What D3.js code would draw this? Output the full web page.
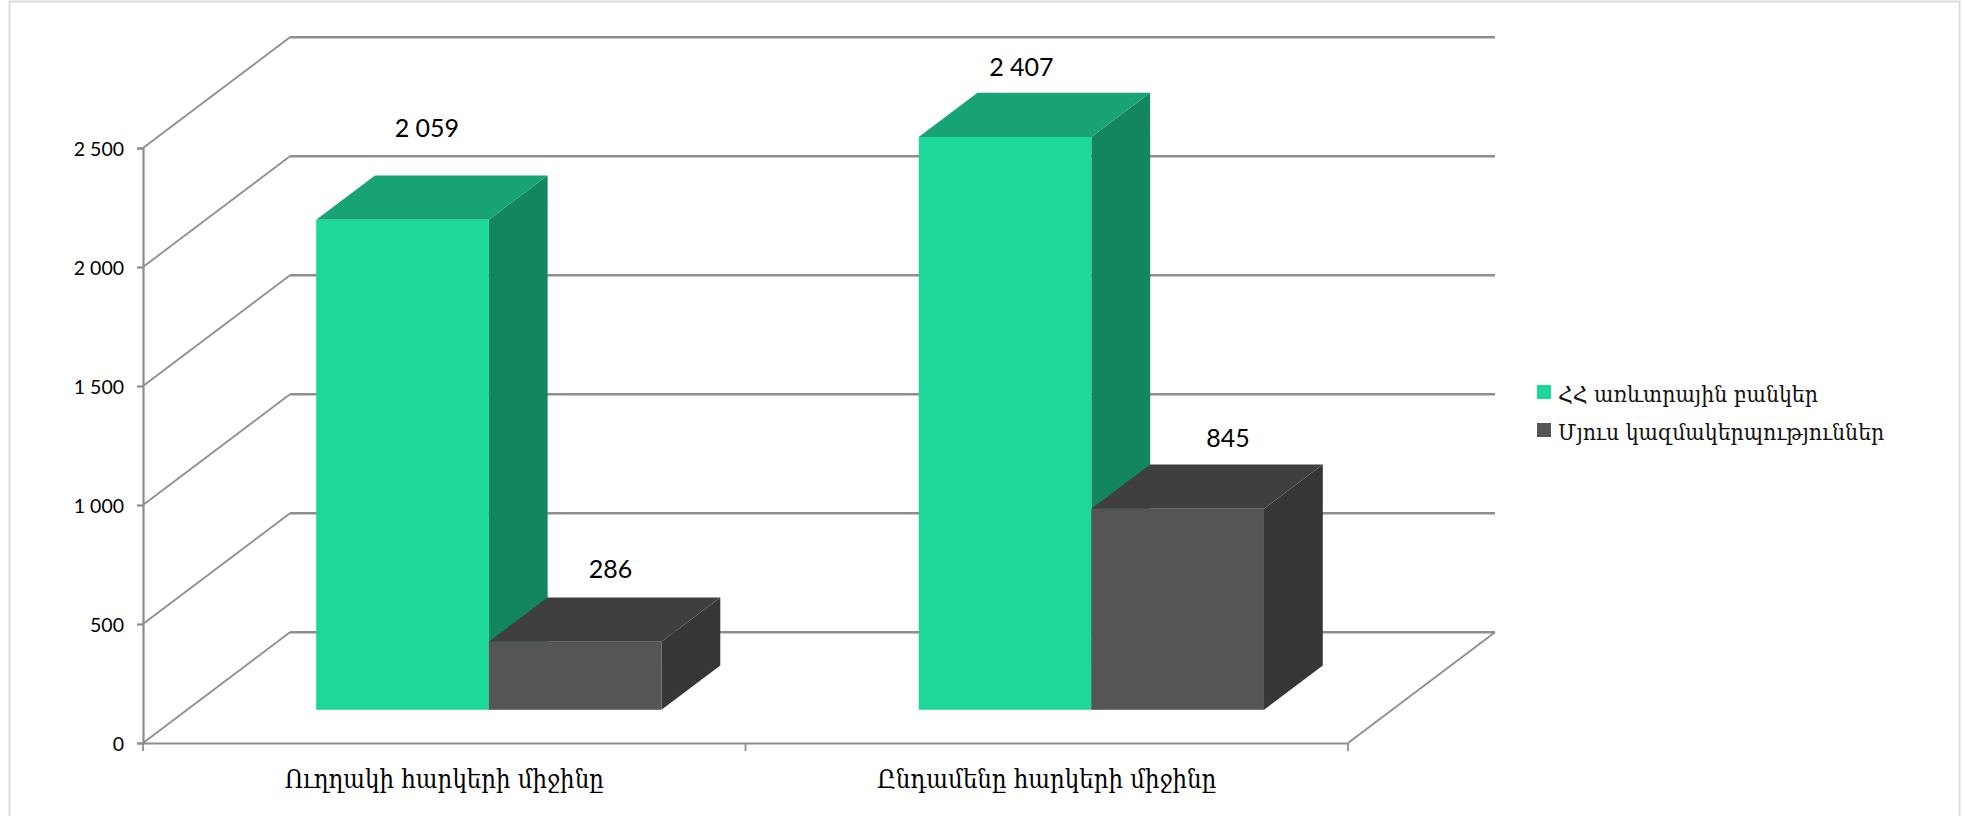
<!DOCTYPE html>
<html><head><meta charset="utf-8">
<script src="https://cdn.jsdelivr.net/npm/d3@7"></script>
<style>html,body{margin:0;padding:0;background:#fff}svg{display:block}</style>
</head><body><svg id="c" width="1962" height="816"></svg>
<script>
const categories = ["Ուղղակի հարկերի միջինը", "Ընդամենը հարկերի միջինը"];
const seriesNames = ["ՀՀ առևտրային բանկեր", "Մյուս կազմակերպություններ"];
const banks = [2059, 2407];
const others = [286, 845];
const yTicks = [0, 500, 1000, 1500, 2000, 2500];

const frontColors = ["#1ed79a", "#555555"];
const topColors = ["#17a376", "#3f3f3f"];
const sideColors = ["#138560", "#363636"];
const gridColor = "#8e8e8e";
const numFont = "Lato, sans-serif";
const armFont = "'DejaVu Serif Condensed', 'DejaVu Serif', serif";

const svg = d3.select("#c");
svg.append("rect").attr("x", 9.5).attr("y", 1.5).attr("width", 1950).attr("height", 830)
  .attr("fill", "#fff").attr("stroke", "#dcdcdc").attr("stroke-width", 2);

const y = d3.scaleLinear().domain([0, 2500]).range([743, 148]);
const x = d3.scaleBand().domain(categories).range([143, 1348]);
const inner = d3.scaleBand().domain([0, 1]).range([0, x.bandwidth()]).paddingInner(0).paddingOuter(0.745);
const depthX = d3.scaleLinear().domain([0, 1]).range([0, 147]);
const depthY = d3.scaleLinear().domain([0, 1]).range([0, -110.7]);
const zFront = 0.3, zBack = 0.7;
const barShift = 0.5;

// walls
const g = svg.append("g").attr("fill", "none").attr("stroke", gridColor);
yTicks.forEach(t => {
  g.append("path").attr("stroke-width", 1.8)
    .attr("d", d3.line()([[143, y(t)], [143 + depthX(1), y(t) + depthY(1)]]));
  g.append("line").attr("stroke-width", 2.4)
    .attr("x1", 143 + depthX(1)).attr("x2", 1348 + depthX(1))
    .attr("y1", y(t) + depthY(1)).attr("y2", y(t) + depthY(1));
});
g.append("path").attr("stroke-width", 1.8)
  .attr("d", d3.line()([[1348, y(0)], [1348 + depthX(1), y(0) + depthY(1)]]));

// axes
const yAxis = svg.append("g").attr("transform", "translate(143,0)")
  .call(d3.axisLeft(y).tickValues(yTicks).tickSize(6).tickPadding(13)
    .tickFormat(d => d3.format(",")(d).replace(",", " ")));
const edges = d3.scaleOrdinal().domain([0, 1, 2]).range([143, 143 + x.step(), 1348]);
const xAxis = svg.append("g").attr("transform", `translate(0,${y(0)})`)
  .call(d3.axisBottom(x).tickSize(0).tickPadding(0));
xAxis.selectAll(".tick text").remove();
xAxis.selectAll(".edge").data([0, 1, 2]).join("line").attr("class", "edge")
  .attr("x1", d => edges(d)).attr("x2", d => edges(d)).attr("y1", 0).attr("y2", 8)
  .attr("stroke", gridColor).attr("stroke-width", 1.8);
[yAxis, xAxis].forEach(a => a.selectAll("path.domain,.tick line")
  .attr("stroke", gridColor).attr("stroke-width", 2.2));
yAxis.selectAll("text").attr("font-family", numFont).attr("font-size", 19.5).attr("fill", "#000").attr("transform", "translate(0,1)");

// bars
const series = [banks, others];
const labelNudge = [[[-5, -20], [-13, 1]], [[6, -1], [21, 1]]];
const bars = svg.append("g");
const labels = svg.append("g");
series.forEach((vals, s) => {
  categories.forEach((c, i) => {
    const x0 = x(c) + inner(s) + barShift, w = inner.bandwidth(), v = vals[i];
    const px = p => [p[0] + depthX(zFront), y(0) + depthY(zFront) - (y(0) - y(p[1]))];
    const dx = depthX(zBack) - depthX(zFront), dy = depthY(zBack) - depthY(zFront);
    const line = d3.line();
    const [xl, yb] = px([x0, 0]), [xr, yt] = px([x0 + w, v]);
    bars.append("path").attr("fill", sideColors[s])
      .attr("d", line([[xr, yb], [xr + dx, yb + dy], [xr + dx, yt + dy], [xr, yt]]) + "Z");
    bars.append("path").attr("fill", topColors[s])
      .attr("d", line([[xl, yt], [xl + dx, yt + dy], [xr + dx, yt + dy], [xr, yt]]) + "Z");
    bars.append("rect").attr("fill", frontColors[s])
      .attr("x", xl).attr("y", yt).attr("width", xr - xl).attr("height", yb - yt);
    labels.append("text").attr("text-anchor", "middle")
      .attr("x", (xl + xr) / 2 + dx / 2 + labelNudge[s][i][0])
      .attr("y", yt + dy - 18 + labelNudge[s][i][1])
      .attr("font-family", numFont).attr("font-size", 25).attr("fill", "#000")
      .text(d3.format(",")(v).replace(",", " "));
  });
});

// category labels
svg.append("g").selectAll("text").data(categories).join("text")
  .attr("x", d => x(d) + x.bandwidth() / 2).attr("y", 788).attr("text-anchor", "middle")
  .attr("font-family", armFont).attr("font-size", 25.5).attr("fill", "#000").text(d => d);

// legend
const leg = svg.append("g").selectAll("g").data(seriesNames).join("g")
  .attr("transform", (d, i) => `translate(1537,${385 + i * 38})`);
leg.append("rect").attr("width", 14).attr("height", 14).attr("fill", (d, i) => frontColors[i]);
leg.append("text").attr("x", 21).attr("y", 17).attr("font-family", armFont)
  .attr("font-size", 22.8).attr("fill", "#111").text(d => d);
</script></body></html>
